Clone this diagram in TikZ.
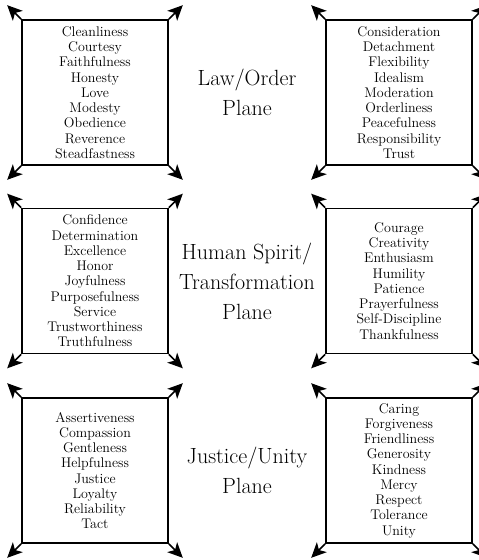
\documentclass[tikz,border=0pt]{standalone}
\usetikzlibrary{arrows.meta}
\begin{document}
\begin{tikzpicture}[x=1pt,y=-1pt,
  plate/.style={draw, line width=1.6pt, minimum width=146pt, minimum height=145pt, inner sep=0pt},
  virtues/.style={align=center, inner sep=0pt, font=\fontsize{14}{15.25}\selectfont},
  planelabel/.style={align=center, inner sep=0pt, font=\fontsize{22}{30}\selectfont},
  cornerarrow/.style={line width=1.5pt, -{Stealth[length=15pt,width=14pt,inset=4pt]}}
]
\useasboundingbox (0,0) rectangle (479,560);

% boxes
\node[plate] (b1l) at (95,92.5) {};
\node[plate] (b1r) at (399,92.5) {};
\node[plate] (b2l) at (95,281) {};
\node[plate] (b2r) at (399,281) {};
\node[plate] (b3l) at (95,470.5) {};
\node[plate] (b3r) at (399,470.5) {};

% corner arrows
\foreach \b in {b1l,b1r,b2l,b2r,b3l,b3r}{
  \draw[cornerarrow] (\b.north west) -- ++(-14,-14);
  \draw[cornerarrow] (\b.north east) -- ++(14,-14);
  \draw[cornerarrow] (\b.south west) -- ++(-14,14);
  \draw[cornerarrow] (\b.south east) -- ++(14,14);
}

% virtue lists
\node[virtues] (t1l) at (b1l) {Cleanliness\\Courtesy\\Faithfulness\\Honesty\\Love\\Modesty\\Obedience\\Reverence\\Steadfastness};
\node[virtues] (t1r) at (b1r) {Consideration\\Detachment\\Flexibility\\Idealism\\Moderation\\Orderliness\\Peacefulness\\Responsibility\\Trust};
\node[virtues] (t2l) at (b2l) {Confidence\\Determination\\Excellence\\Honor\\Joyfulness\\Purposefulness\\Service\\Trustworthiness\\Truthfulness};
\node[virtues] (t2r) at (b2r) {Courage\\Creativity\\Enthusiasm\\Humility\\Patience\\Prayerfulness\\Self-Discipline\\Thankfulness};
\node[virtues] (t3l) at (b3l) {Assertiveness\\Compassion\\Gentleness\\Helpfulness\\Justice\\Loyalty\\Reliability\\Tact};
\node[virtues] (t3r) at (b3r) {Caring\\Forgiveness\\Friendliness\\Generosity\\Kindness\\Mercy\\Respect\\Tolerance\\Unity};

% plane labels
\node[planelabel] (p1) at (247,92.5) {Law/Order\\Plane};
\node[planelabel] (p2) at (247,281) {Human Spirit/\\Transformation\\Plane};
\node[planelabel] (p3) at (247,470.5) {Justice/Unity\\Plane};
\end{tikzpicture}
\end{document}
